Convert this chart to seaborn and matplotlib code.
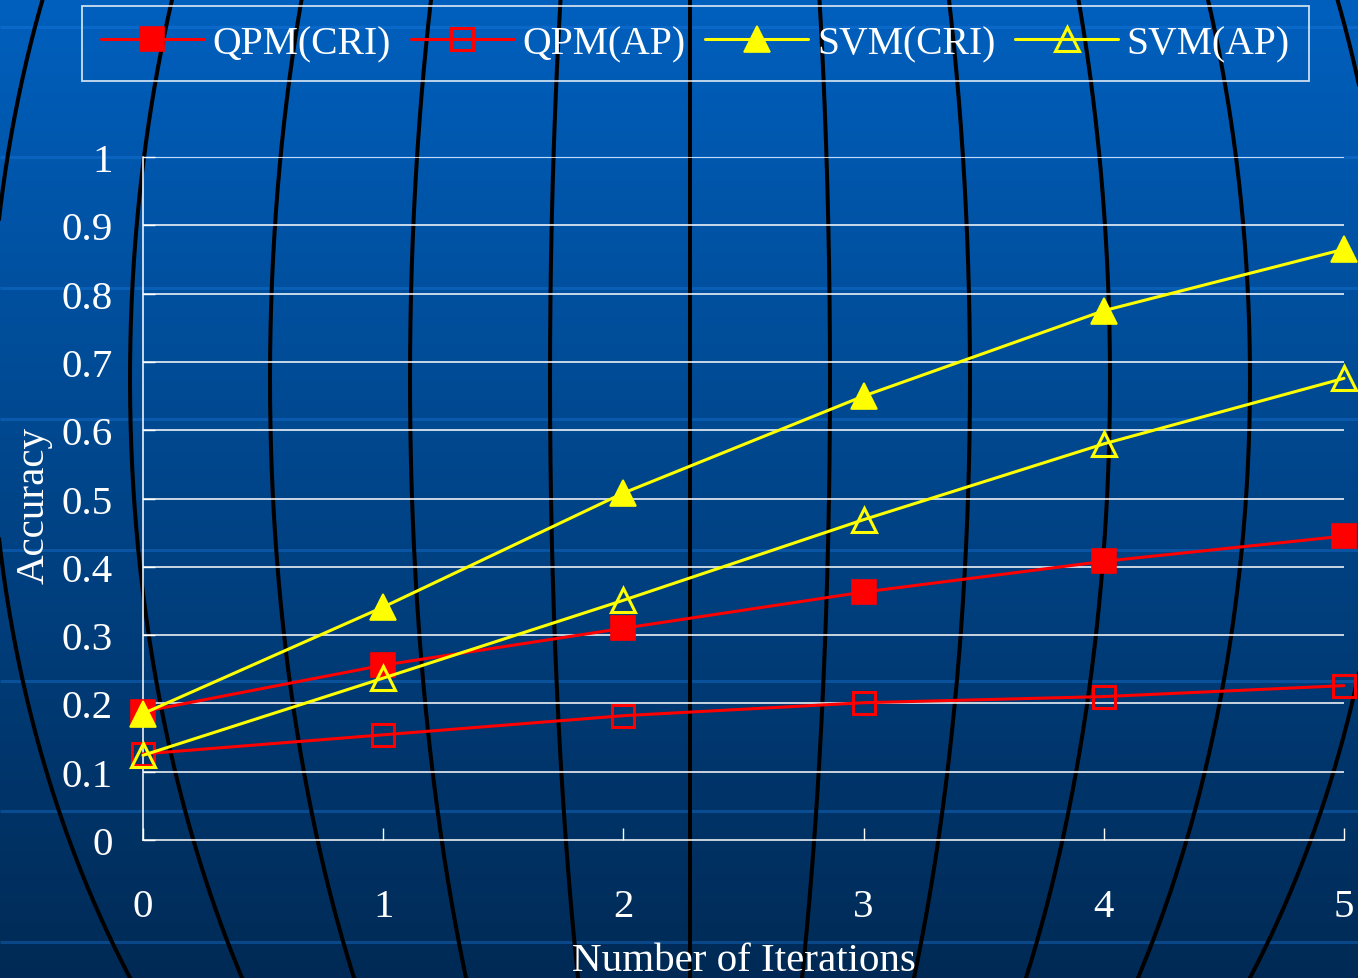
import numpy as np
import pandas as pd
import matplotlib
matplotlib.use("Agg")
import matplotlib.pyplot as plt
import seaborn as sns

# --- data -------------------------------------------------------------
iterations = [0, 1, 2, 3, 4, 5]
qpm_cri = [0.188, 0.256, 0.310, 0.363, 0.408, 0.445]
qpm_ap = [0.126, 0.154, 0.182, 0.201, 0.210, 0.226]
svm_cri = [0.185, 0.341, 0.508, 0.650, 0.775, 0.865]
svm_ap = [0.124, 0.237, 0.351, 0.469, 0.580, 0.676]
series_names = ["QPM(CRI)", "QPM(AP)", "SVM(CRI)", "SVM(AP)"]
y_ticks = [0, 0.1, 0.2, 0.3, 0.4, 0.5, 0.6, 0.7, 0.8, 0.9, 1.0]
y_tick_labels = ["0", "0.1", "0.2", "0.3", "0.4", "0.5", "0.6", "0.7", "0.8", "0.9", "1"]

sns.set_style("ticks")
plt.rcParams["font.family"] = ["Liberation Serif", "DejaVu Serif"]

W, H = 1358, 979
fig = plt.figure(figsize=(W / 100, H / 100), dpi=100)

# --- slide-style background: blue gradient, light bands, globe meridians --
bg = fig.add_axes([0, 0, 1, 1], zorder=0)
bg.set_xlim(0, W)
bg.set_ylim(H, 0)
bg.axis("off")

top_rgb = np.array([0, 96, 190]) / 255
bot_rgb = np.array([0, 42, 85]) / 255
t = np.linspace(0, 1, 400)[:, None]
grad = (1 - t) * top_rgb + t * bot_rgb
grad = np.repeat(grad[:, None, :], 2, axis=1)
bg.imshow(grad, extent=(0, W, H, 0), aspect="auto", interpolation="bilinear")

band_rows = [28, 158, 289, 420, 551, 682, 812, 943]
band_tint = np.array([26, 122, 224]) / 255
for yb in band_rows:
    base = (1 - yb / H) * top_rgb + (yb / H) * bot_rgb
    col = 0.65 * base + 0.35 * band_tint
    bg.plot([0, W], [yb, yb], color=col, lw=2.2, solid_capstyle="butt")

yy = np.linspace(-20, H + 20, 400)
profile = np.sqrt(1 - ((yy - 380) / 998) ** 2)
for k in range(-5, 6):
    bg.plot(690 + k * 140 * profile, yy, color="black", lw=2.9)

# --- main chart ---------------------------------------------------------
ax = fig.add_axes([143 / W, 138 / H, 1201 / W, 683 / H], zorder=1)
ax.set_facecolor("none")

df = pd.DataFrame({
    "iter": iterations,
    series_names[0]: qpm_cri,
    series_names[1]: qpm_ap,
    series_names[2]: svm_cri,
    series_names[3]: svm_ap,
})

styles = {
    "QPM(CRI)": dict(color="#FF0000", marker="s", markersize=17,
                     markerfacecolor="#FF0000", markeredgecolor="#FF0000",
                     markeredgewidth=1.2),
    "QPM(AP)": dict(color="#FF0000", marker="s", markersize=15.5,
                    markerfacecolor="none", markeredgecolor="#FF0000",
                    markeredgewidth=2.2),
    "SVM(CRI)": dict(color="#FFFF00", marker="^", markersize=19,
                     markerfacecolor="#FFFF00", markeredgecolor="#FFFF00",
                     markeredgewidth=1.2),
    "SVM(AP)": dict(color="#FFFF00", marker="^", markersize=17.5,
                    markerfacecolor="none", markeredgecolor="#FFFF00",
                    markeredgewidth=2.2),
}

for name in series_names:
    sns.lineplot(data=df, x="iter", y=name, ax=ax, label=name, lw=2.2,
                 clip_on=False, zorder=3, **styles[name])

ax.set_xlim(0, 5)
ax.set_ylim(0, 1)
ax.set_xticks(iterations)
ax.set_xticklabels([str(i) for i in iterations])
ax.set_yticks(y_ticks)
ax.set_yticklabels(y_tick_labels)

for yv in y_ticks[1:]:
    ax.axhline(yv, color="white", lw=1.1, zorder=1)

for side in ["top", "right"]:
    ax.spines[side].set_visible(False)
for side in ["left", "bottom"]:
    ax.spines[side].set_color("white")
    ax.spines[side].set_linewidth(1.1)

ax.tick_params(axis="x", direction="in", length=8.5, width=1.0, color="white",
               labelcolor="white", labelsize=29.5, pad=34.5)
ax.tick_params(axis="y", direction="in", length=8.5, width=1.0, color="white",
               labelcolor="white", labelsize=29.5, pad=22)

ax.set_xlabel("Number of Iterations", color="white", fontsize=29.5)
ax.xaxis.label.set_va("baseline")
ax.xaxis.set_label_coords(0.5, -0.191)
ax.set_ylabel("Accuracy", color="white", fontsize=29.5)
ax.yaxis.label.set_va("baseline")
ax.yaxis.set_label_coords(-0.083, 0.491)

handles, labels = ax.get_legend_handles_labels()
ax.get_legend().remove()
leg = fig.legend(handles, labels, loc="upper left",
                 bbox_to_anchor=(82 / W, 1 - 7 / H), ncol=4,
                 fontsize=28.5, labelcolor="white", frameon=True,
                 fancybox=False, facecolor="none", edgecolor="white",
                 borderaxespad=0, borderpad=0.48, handlelength=2.6,
                 handletextpad=0.22, columnspacing=0.5)
leg.get_frame().set_linewidth(1.3)
leg.set_zorder(5)

fig.savefig("out.png", dpi=100)
